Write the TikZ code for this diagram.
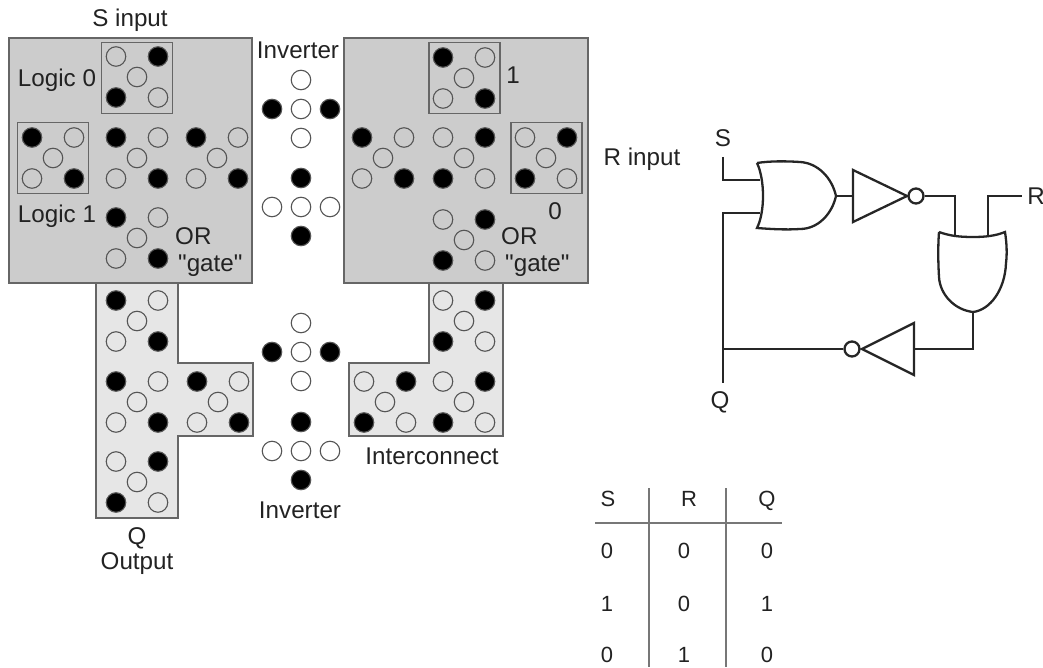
\documentclass[tikz,border=0pt]{standalone}
\usepackage{fontspec}
\newfontfamily\labfont{Liberation Sans}
\definecolor{blockgray}{HTML}{CCCCCC}
\definecolor{wiregray}{HTML}{E6E6E6}
\definecolor{edgegray}{HTML}{666666}
\definecolor{dotgray}{HTML}{555555}
\definecolor{textgray}{HTML}{222222}
\definecolor{rulegray}{HTML}{777777}
\tikzset{
	qdot/.style={circle, draw=dotgray, line width=1.1pt, inner sep=0pt, minimum size=19.5pt},
	lab/.style={font=\labfont\fontsize{24.2}{27}\selectfont, text=textgray, inner sep=0pt, text height=17pt, text depth=0pt},
	tab/.style={font=\labfont\fontsize{22}{25}\selectfont, text=textgray, inner sep=0pt, text height=16pt, text depth=0pt},
	block/.style={draw=edgegray, line width=1.5pt},
	cellbox/.style={draw=edgegray, line width=1.3pt, inner sep=0pt, minimum width=71pt, minimum height=71pt},
	wire/.style={draw=black!85, line width=2.3pt},
	bubble/.style={circle, draw=black!85, line width=2.3pt, inner sep=0pt, minimum size=15pt},
	tabrule/.style={draw=rulegray, line width=1.3pt}
}

\begin{document}
\begin{tikzpicture}[x=1pt, y=-1pt]

	\useasboundingbox (0,0) rectangle (1043,668);

	\node (sblock) [block, fill=blockgray, minimum width=243pt, minimum height=245pt, inner sep=0pt] at (130.5,160.5) {};
	\node (rblock) [block, fill=blockgray, minimum width=244pt, minimum height=245pt, inner sep=0pt] at (466,160.5) {};
	\draw[block, fill=wiregray] (96,283) -- (178,283) -- (178,363) -- (253,363) -- (253,436) -- (178,436) -- (178,518) -- (96,518) -- cycle;
	\draw[block, fill=wiregray] (429,283) -- (503,283) -- (503,436) -- (349,436) -- (349,363) -- (429,363) -- cycle;

	\node (boxl0) [cellbox] at (137,78) {};
	\node (boxl1) [cellbox] at (53,158) {};
	\node (boxr1) [cellbox] at (464.5,78) {};
	\node (boxr0) [cellbox] at (546.5,158) {};

	\foreach \n/\cx/\cy/\a/\b in {
		a/137/77/none/black, b/53/158/black/none, c/137/158/black/none, d/217/158/black/none, e/137/238/black/none,
		f/464/78/black/none, g/383/158/black/none, h/464/158/none/black, i/546/158/none/black, j/464/240/none/black,
		k/137/321/black/none, l/137/402/black/none, m/218/402/black/none, n/137/482/none/black,
		o/464/321/none/black, p/385/402/none/black, q/464/402/none/black} {
		\node[qdot, fill=\a] (\n tl) at (\cx-21,\cy-20.5) {};
		\node[qdot, fill=\b] (\n tr) at (\cx+21,\cy-20.5) {};
		\node[qdot] (\n c) at (\cx,\cy) {};
		\node[qdot, fill=\b] (\n bl) at (\cx-21,\cy+20.5) {};
		\node[qdot, fill=\a] (\n br) at (\cx+21,\cy+20.5) {};
	}

	\foreach \n/\cy/\a/\b/\c in {inva/109/none/black/none, invb/207/black/none/black, invc/352/none/black/none, invd/451/black/none/black} {
		\node[qdot, fill=\a] (\n t) at (301,\cy-29) {};
		\node[qdot, fill=\b] (\n l) at (272,\cy) {};
		\node[qdot] (\n c) at (301,\cy) {};
		\node[qdot, fill=\b] (\n r) at (330,\cy) {};
		\node[qdot, fill=\c] (\n b) at (301,\cy+29) {};
	}

	\node[lab] (lsinput) at (130,18) {S input};
	\node[lab] (linvtop) at (298,50.5) {Inverter};
	\node[lab] (llogic0) at (57,78) {Logic 0};
	\node[lab] (llogic1) at (57,214.5) {Logic 1};
	\node[lab, anchor=west] (lorl) at (175,236) {OR};
	\node[lab, anchor=west] (lgatel) at (178,262.5) {"gate"};
	\node[lab] (lone) at (513,75) {1};
	\node[lab] (lzero) at (555,211) {0};
	\node[lab, anchor=west] (lorr) at (501,236) {OR};
	\node[lab, anchor=west] (lgater) at (505,262.5) {"gate"};
	\node[lab] (lrinput) at (642,157) {R input};
	\node[lab] (linterc) at (432,456) {Interconnect};
	\node[lab] (linvbot) at (300,509.5) {Inverter};
	\node[lab] (lq) at (137,536) {Q};
	\node[lab] (loutput) at (137,561) {Output};

	\draw[wire] (757,163) .. controls (770,161) and (785,161) .. (800,162)
		.. controls (818,163) and (832,178) .. (836,196)
		.. controls (832,214) and (818,229) .. (800,229)
		.. controls (785,230) and (770,229) .. (757,228)
		.. controls (765,212) and (765,180) .. (757,163);
	\draw[wire] (939,232) .. controls (950,236) and (960,237) .. (973,237)
		.. controls (985,237) and (995,236) .. (1005,232)
		.. controls (1007,245) and (1007,255) .. (1006,263)
		.. controls (1005,290) and (990,310) .. (973,312)
		.. controls (955,310) and (940,295) .. (939,277)
		.. controls (938,260) and (938,245) .. (939,232);
	\draw[wire] (853,170) -- (907,196) -- (853,222) -- cycle;
	\draw[wire] (914,323) -- (862,349) -- (914,375) -- cycle;

	\node[bubble] (bubtop) at (916,196) {};
	\node[bubble] (bubbot) at (852,349) {};

	\coordinate (sstart) at (723,157);
	\coordinate (orin1) at (760,180);
	\coordinate (orin2) at (760,213);
	\coordinate (orout) at (836,196);
	\coordinate (invin) at (853,196);
	\coordinate (andin1) at (955,235);
	\coordinate (andin2) at (988,235);
	\coordinate (rend) at (1022,196);
	\coordinate (andout) at (973,312);
	\coordinate (invin2) at (914,349);
	\coordinate (qjoin) at (723,349);
	\coordinate (qend) at (723,383);

	\draw[wire] (sstart) |- (orin1);
	\draw[wire] (orin2) -| (qend);
	\draw[wire] (orout) -- (invin);
	\draw[wire] (bubtop) -| (andin1);
	\draw[wire] (andin2) |- (rend);
	\draw[wire] (andout) |- (invin2);
	\draw[wire] (bubbot) -- (qjoin);

	\node[lab] (ls) at (723,138) {S};
	\node[lab] (lr) at (1036,196) {R};
	\node[lab] (lqq) at (720,400) {Q};

	\foreach \n/\cx/\t in {s/608/S, r/689/R, q/767/Q}
		\node[tab] (h\n) at (\cx,498) {\t};
	\foreach \n/\cy/\a/\b/\c in {1/550/0/0/0, 2/603/1/0/1, 3/654/0/1/0} {
		\node[tab] (ts\n) at (607,\cy) {\a};
		\node[tab] (tr\n) at (684,\cy) {\b};
		\node[tab] (tq\n) at (767,\cy) {\c};
	}

	\coordinate (rulel) at (595,523);
	\coordinate (ruler) at (782,523);
	\coordinate (rulea) at (649,488);
	\coordinate (ruleb) at (649,667);
	\coordinate (rulec) at (726,488);
	\coordinate (ruled) at (726,667);
	\draw[tabrule] (rulel) -- (ruler);
	\draw[tabrule] (rulea) -- (ruleb);
	\draw[tabrule] (rulec) -- (ruled);

\end{tikzpicture}
\end{document}
